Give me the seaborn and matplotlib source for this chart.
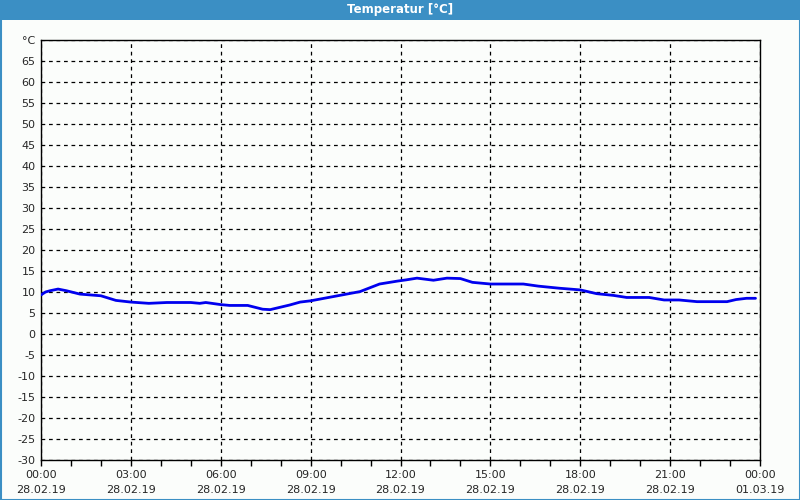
import matplotlib
matplotlib.use("Agg")
import matplotlib.pyplot as plt
import seaborn as sns
import pandas as pd
from matplotlib.patches import Rectangle

# Data (hours since 28.02.19 00:00, temperature in °C)
hours = [0.0, 0.15, 0.3, 0.57, 0.85, 1.3, 2.0, 2.5, 3.0, 3.6, 4.2, 5.0, 5.3, 5.5,
         6.0, 6.3, 6.9, 7.4, 7.65, 8.3, 8.65, 9.0, 9.75, 10.65, 11.3, 11.9,
         12.2, 12.55, 13.1, 13.55, 14.0, 14.4, 15.0, 16.1, 16.6, 17.3, 18.0,
         18.55, 19.1, 19.55, 20.3, 20.8, 21.3, 21.9, 22.9, 23.2, 23.55, 23.85]
temps = [9.3, 10.0, 10.3, 10.7, 10.3, 9.5, 9.1, 8.0, 7.6, 7.3, 7.5, 7.5, 7.3, 7.5,
         7.0, 6.8, 6.8, 5.9, 5.8, 6.9, 7.6, 7.9, 8.9, 10.1, 11.9, 12.6,
         12.9, 13.3, 12.8, 13.3, 13.2, 12.3, 11.9, 11.9, 11.4, 10.9, 10.5,
         9.6, 9.2, 8.7, 8.7, 8.1, 8.1, 7.7, 7.7, 8.2, 8.5, 8.5]

title = "Temperatur [°C]"
x_major = [0, 3, 6, 9, 12, 15, 18, 21, 24]
x_labels = ["00:00\n28.02.19", "03:00\n28.02.19", "06:00\n28.02.19", "09:00\n28.02.19",
            "12:00\n28.02.19", "15:00\n28.02.19", "18:00\n28.02.19", "21:00\n28.02.19",
            "00:00\n01.03.19"]
y_ticks = list(range(-30, 75, 5))
y_labels = [str(v) for v in range(-30, 70, 5)] + ["°C"]

df = pd.DataFrame({"h": hours, "t": temps})

sns.set_style("white")
plt.rcParams['font.family'] = ['DejaVu Sans']

bg = "#fbfdfb"
bar = "#3b8fc4"
fig = plt.figure(figsize=(8, 5), dpi=100, facecolor=bg)
ax = fig.add_axes([41/800, 1 - 460/500, (760-41)/800, 420/500])
ax.set_facecolor(bg)

sns.lineplot(data=df, x="h", y="t", ax=ax, color="#0000ee", linewidth=2.0, zorder=5)

ax.set_xlim(0, 24)
ax.set_ylim(-30, 70)
ax.set_xticks(x_major)
ax.set_xticklabels(x_labels, fontsize=8, linespacing=1.6)
ax.set_xticks(range(0, 25), minor=True)
ax.set_yticks(y_ticks)
ax.set_yticklabels(y_labels, fontsize=8)
ax.set_xlabel("")
ax.set_ylabel("")
ax.tick_params(axis="x", which="both", direction="out", length=4, width=1, color="black", bottom=True, pad=3)
ax.tick_params(axis="y", which="both", length=0, pad=4)
ax.grid(True, which="major", color="black", linestyle=(0, (3, 3)), linewidth=0.9)
for s in ax.spines.values():
    s.set_visible(True)
    s.set_color("black")
    s.set_linewidth(1)

# title bar and window border
fig.patches.append(Rectangle((0, 1 - 20/500), 1, 20/500, transform=fig.transFigure,
                             facecolor=bar, edgecolor="none", zorder=0))
fig.patches.append(Rectangle((0.5/800, 0.5/500), 799/800, 499/500, transform=fig.transFigure,
                             facecolor="none", edgecolor=bar, linewidth=1.5, zorder=1))
fig.text(0.5, 1 - 10/500, title, ha="center", va="center", color="white",
         fontsize=8.5, fontweight="bold")

fig.savefig("out.png", dpi=100, facecolor=bg)
